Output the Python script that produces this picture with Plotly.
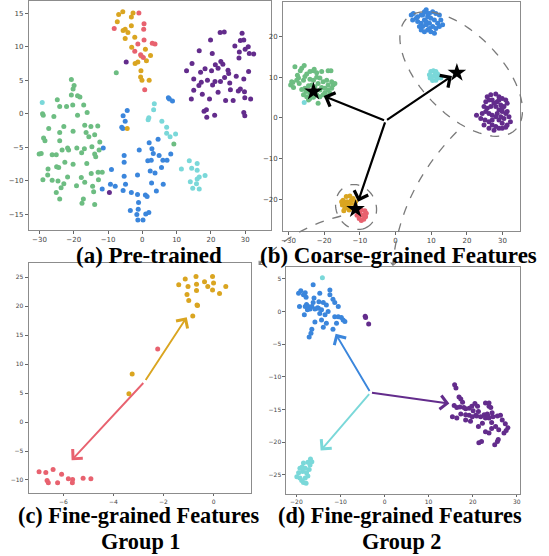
import numpy as np
import plotly.graph_objects as go

W, H = 549, 556
def px(x): return x / W
def py(y): return 1 - y / H

GREEN = "#6dbd82"
PURPLE = "#632c8c"
BLUE = "#3b86dc"
CYAN = "#7ad8d9"
GOLD = "#daa520"
PINK = "#e8626f"

# ---------------- Panel (a): Pre-trained ----------------
a_gold = [(-6.9,14.8),(-5.7,15.2),(-7.3,13.7),(-2.7,15.0),(-3.2,14.4),(-5.0,12.6),(-5.6,12.4),(-4.2,12.1),(-3.2,13.1),
          (-5.0,11.2),(-2.2,11.4),(-3.1,9.9),(0.9,9.6),(-0.3,8.6),(-1.3,7.7),(-2.1,7.5),(1.2,7.9),(2.4,8.7),(-0.4,6.4),
          (-0.5,5.5),(-0.1,5.0),(2.0,5.0),(-4.4,-2.2)]
a_pink = [(-1.0,15.0),(0.5,13.4),(0.4,12.6),(-8.2,12.7),(-1.3,10.4),(0.5,11.0),(2.9,10.5),(3.7,10.4),(-2.2,9.3),
          (-0.5,8.8),(0.3,8.4),(0.7,3.6)]
a_purple = [(22.7,12.1),(23.9,12.2),(29.1,12.0),(19.9,11.0),(16.6,9.4),(20.4,9.0),(28.6,10.9),(29.6,11.0),(27.0,10.1),
            (30.9,10.0),(28.3,9.2),(30.0,9.6),(31.2,9.0),(32.5,8.9),(28.2,8.3),(14.5,7.5),(22.9,7.8),(23.5,7.4),(21.3,7.3),
            (18.3,6.7),(17.0,6.2),(12.9,6.4),(20.2,6.4),(22.1,6.8),(25.0,6.5),(25.2,6.0),(31.0,6.3),(15.0,5.2),(17.2,4.7),
            (16.5,4.2),(19.0,5.0),(21.2,4.8),(22.8,4.8),(24.0,5.4),(27.4,5.6),(29.6,5.2),(25.5,4.6),(20.5,4.3),(15.0,3.5),
            (17.5,2.9),(22.1,3.2),(25.7,3.6),(28.0,3.4),(28.6,3.7),(29.8,3.3),(14.3,2.2),(19.6,2.2),(24.3,2.0),(26.5,2.0),
            (29.9,2.4),(31.6,2.2),(18.0,0.4),(18.7,0.6),(18.8,-0.5),(21.1,-0.2),(29.6,0.2),(29.9,-0.3),(-4.7,7.7),(-9.6,-11.7)]
a_green = [(-20.7,5.1),(-19.9,4.2),(-20.2,3.7),(-20.7,2.8),(-18.9,2.7),(-18.2,2.5),(-24.8,2.1),(-7.6,6.1),(-24.1,1.1),
           (-22.1,1.1),(-20.3,1.3),(-17.1,1.3),(-16.1,0.2),(-18.9,-0.2),(-29.1,0.0),(-28.9,-0.2),(-25.8,-0.4),(-27.3,-2.2),
           (-22.9,-1.9),(-24.1,-2.8),(-20.2,-2.6),(-16.8,-1.7),(-15.0,-1.9),(-13.0,-1.8),(-16.4,-2.8),(-15.6,-3.4),
           (-13.9,-3.1),(-28.8,-3.6),(-28.4,-4.0),(-24.1,-4.0),(-12.4,-4.2),(-21.8,-5.1),(-21.5,-5.4),(-23.4,-5.4),
           (-19.1,-5.1),(-16.9,-5.2),(-14.7,-4.9),(-17.7,-5.8),(-12.6,-5.4),(-30.1,-6.0),(-29.5,-5.9),(-26.3,-6.1),
           (-25.1,-6.1),(-13.9,-6.0),(-13.6,-6.4),(-22.6,-7.2),(-20.2,-7.5),(-16.2,-7.4),(-27.5,-8.2),(-25.0,-7.9),
           (-24.4,-8.0),(-27.6,-9.1),(-21.8,-9.4),(-29.0,-9.8),(-26.3,-9.9),(-24.6,-10.0),(-22.9,-10.4),(-23.7,-11.0),
           (-19.2,-10.7),(-17.8,-9.5),(-16.8,-10.2),(-14.9,-8.9),(-12.9,-8.7),(-11.7,-8.7),(-12.8,-9.8),(-25.1,-11.7),
           (-14.5,-10.8),(-14.2,-11.6),(-24.1,-12.7),(-17.2,-12.7),(-17.6,-13.3),(-13.9,-13.5),(9.2,-4.5)]
a_blue = [(7.6,2.4),(7.9,2.2),(8.8,1.9),(-4.4,0.5),(-5.6,-0.3),(-5.0,-1.1),(-6.0,-2.0),(-5.7,-2.2),(4.6,-3.8),(2.0,-4.3),
          (-11.4,-5.1),(-0.9,-5.4),(2.8,-5.2),(3.2,-5.9),(-5.3,-6.2),(-5.3,-7.2),(4.9,-6.2),(8.3,-6.0),(1.6,-7.0),(2.6,-6.9),
          (6.0,-6.9),(7.2,-6.9),(2.3,-8.5),(3.7,-8.8),(5.6,-8.0),(-9.0,-8.3),(-1.4,-9.1),(-5.3,-9.3),(2.7,-10.3),(6.1,-10.5),
          (-4.9,-10.5),(-9.3,-10.5),(-7.9,-10.8),(-11.7,-11.2),(-5.6,-11.4),(4.1,-11.5),(-3.2,-11.7),(-1.4,-12.0),(0.9,-12.1),
          (1.4,-12.3),(-1.1,-13.2),(-1.2,-14.2),(-3.5,-14.4),(-1.6,-15.0),(-1.3,-15.8),(0.2,-15.8),(1.0,-14.9),(1.9,-14.7)]
a_cyan = [(-29.2,1.7),(3.5,1.5),(3.3,0.6),(1.9,-0.6),(1.7,-0.9),(5.7,-1.1),(7.1,-2.0),(7.1,-2.9),(8.1,-3.4),(9.7,-3.0),
          (11.4,-8.2),(13.7,-7.0),(16.0,-7.4),(14.4,-8.1),(16.0,-8.4),(18.3,-9.2),(16.6,-9.4),(16.0,-9.7),(14.0,-10.1),
          (15.8,-10.4),(14.7,-11.1),(16.6,-11.2)]

# ---------------- Panel (b): Coarse-grained ----------------
b_green = [(-28.2,12.6),(-26.3,12.2),(-25.6,12.9),(-26.7,11.6),(-24.0,11.4),(-23.0,11.6),(-24.9,10.8),(-22.1,11.1),
           (-20.7,11.4),(-18.9,11.6),(-18.1,11.6),(-29.1,8.9),(-29.4,8.1),(-28.6,7.5),(-27.2,9.8),(-25.8,9.3),(-25.4,10.2),
           (-24.0,9.5),(-22.1,10.0),(-21.2,9.8),(-20.3,8.9),(-19.3,9.3),(-17.9,8.9),(-17.5,8.1),(-26.3,7.0),(-25.4,7.3),
           (-24.4,7.9),(-23.5,8.1),(-22.6,7.7),(-21.7,8.5),(-20.7,7.5),(-19.8,7.3),(-18.9,6.9),(-18.4,6.1),(-25.8,5.7),
           (-24.9,5.2),(-24.0,4.8),(-23.0,5.1),(-22.1,5.7),(-21.2,5.2),(-20.3,5.7),(-19.3,5.2),(-21.7,3.6),(-24.4,4.4),
           (-18.9,8.1),(-27.7,9.3),(-27.0,8.5),(-23.0,9.3),(-21.2,6.9),(-19.8,6.2),(-25.1,6.5),(-24.0,6.1),(-22.6,6.5),
           (-17.9,7.3),(-17.0,8.5),(-28.8,8.7),(-27.5,10.5),(-22.8,12.0)]
b_blue = [(4.4,25.3),(5.0,25.7),(5.8,24.5),(6.2,24.9),(7.2,25.3),(8.1,26.1),(8.6,26.6),(9.5,25.7),(10.4,26.1),(11.3,25.7),
          (12.3,25.3),(12.7,24.1),(13.2,22.9),(11.8,23.3),(10.9,24.1),(9.9,24.5),(9.0,24.9),(8.1,24.1),(7.2,23.3),(7.6,22.5),
          (8.6,22.9),(9.5,23.3),(10.4,22.5),(11.3,22.0),(9.0,21.6),(8.1,21.2),(7.2,21.6),(9.9,21.2),(12.3,22.5),(6.2,23.7),
          (4.8,24.1),(8.6,23.7),(9.5,22.0),(10.9,20.8),(7.6,25.3),(9.0,25.7),(6.7,22.5)]
b_cyan = [(9.5,10.6),(9.9,11.4),(10.6,11.6),(11.3,11.4),(11.8,10.8),(12.3,10.2),(12.7,9.8),(11.3,9.3),(10.4,9.2),
          (9.7,9.8),(10.9,10.3),(10.2,10.2),(11.8,9.8),(11.2,11.0),(-25.6,3.8)]
b_purple = [(25.7,5.2),(26.7,5.7),(28.1,5.9),(29.0,5.2),(29.9,4.8),(30.9,4.4),(31.3,3.6),(30.4,2.8),(29.5,3.2),(28.5,4.0),
            (27.1,4.4),(26.2,4.4),(25.3,4.0),(24.8,2.8),(25.7,2.4),(26.7,2.8),(28.1,2.8),(29.0,2.0),(29.9,1.6),(30.9,1.1),
            (31.8,0.3),(32.2,-0.9),(31.3,-1.7),(29.9,-1.3),(29.0,-0.5),(28.1,0.3),(27.1,0.7),(26.2,1.1),(25.3,1.6),(24.3,1.1),
            (22.7,0.7),(23.9,-0.1),(25.1,-0.5),(26.2,-0.9),(27.1,-1.7),(28.1,-2.1),(29.0,-2.5),(29.9,-2.5),(30.9,-2.3),
            (26.2,-2.5),(24.8,-1.7),(27.6,-3.0),(27.1,-0.5),(28.5,1.1),(29.5,0.3),(30.4,-0.1),(27.6,3.6),(29.0,4.4),
            (29.9,2.4),(31.3,1.6)]
b_gold = [(-14.7,-20.2),(-13.8,-19.3),(-12.8,-19.2),(-11.9,-19.8),(-11.2,-20.6),(-11.4,-21.4),(-12.1,-22.2),(-13.0,-22.6),
          (-14.2,-22.2),(-14.9,-21.4),(-13.6,-20.6),(-12.6,-21.0),(-13.3,-21.8),(-13.9,-21.1),(-12.4,-20.2),(-14.5,-22.8),
          (-15.1,-20.6)]
b_pink = [(-10.5,-23.0),(-9.6,-22.6),(-8.6,-22.8),(-8.2,-23.4),(-8.4,-24.3),(-8.9,-24.9),(-9.6,-25.2),(-10.2,-24.7),
          (-10.8,-23.9),(-9.3,-23.9),(-10.0,-23.4),(-8.6,-23.9)]
b_stars = [(-23.0,6.5),(17.2,11.1),(-11.2,-22.4)]
b_origin = (-2.8,-0.7)
b_arrow_tips = [(-20.1,5.4),(15.8,10.3),(-10.5,-20.6)]

# ---------------- Panel (c): Fine-grained Group 1 ----------------
c_gold = [(-1.39,23.7),(-1.13,24.7),(-0.70,25.1),(-0.36,24.2),(-0.04,25.1),(0.0,24.0),(-1.02,23.4),(-0.68,23.8),
          (-0.23,23.4),(0.49,23.4),(-1.06,22.0),(-0.68,22.7),(-0.04,22.8),(0.24,22.2),(-0.99,21.0),(-0.66,20.2),
          (-0.64,20.1),(-0.83,18.3),(-3.25,8.3),(-3.38,4.9)]
c_pink = [(-2.23,12.6),(-6.97,-8.6),(-6.70,-8.7),(-6.41,-8.2),(-6.07,-9.0),(-6.65,-10.1),(-6.60,-10.5),(-6.23,-10.5),
          (-5.80,-9.8),(-5.63,-9.9),(-5.64,-10.5),(-5.21,-9.7),(-4.90,-9.8)]
c_origin = (-2.75,7.0)
c_arrows = [((-1.07,18.1), GOLD), ((-5.67,-6.6), PINK)]

# ---------------- Panel (d): Fine-grained Group 2 ----------------
d_blue = [(-19.5,2.8),(-19.0,3.2),(-18.4,2.6),(-18.0,2.9),(-17.8,2.2),(-19.3,0.8),(-18.2,-0.5),(-17.7,1.1),(-17.3,0.8),
          (-16.5,0.8),(-16.2,1.4),(-16.9,0.4),(-16.0,2.1),(-16.2,4.1),(-14.7,2.8),(-14.9,1.5),(-15.0,0.5),(-14.3,0.3),
          (-13.9,1.4),(-14.7,-0.3),(-13.5,-0.5),(-14.3,-1.3),(-12.8,0.0),(-12.4,3.3),(-12.4,2.6),(-11.7,1.9),(-11.3,1.4),
          (-10.5,0.8),(-11.3,-0.8),(-10.5,-0.8),(-9.8,-0.9),(-9.4,-1.3),(-9.0,-1.5),(-10.9,-1.8),(-11.7,-2.7),(-13.2,-1.8),
          (-13.9,-2.4),(-15.8,-1.6),(-16.5,-2.7),(-16.7,-3.3),(-17.1,-3.9),(-15.8,0.4),(-15.2,0.6),(-13.2,1.0),(-18.0,0.8),
          (-17.5,0.3)]
d_cyan = [(-14.1,5.2),(-16.8,-22.6),(-17.4,-23.1),(-18.4,-23.2),(-18.7,-23.8),(-19.2,-24.0),(-19.5,-24.7),(-19.9,-25.3),
          (-19.2,-25.5),(-18.8,-25.9),(-18.4,-26.2),(-17.8,-26.3),(-18.0,-25.5),(-17.7,-24.7),(-17.1,-24.2),(-16.9,-23.5),
          (-16.5,-23.0),(-18.0,-24.0),(-18.6,-24.5),(-17.4,-25.2)]
d_purple = [(-4.4,-0.7),(-4.3,-0.9),(-3.6,-1.9),(15.9,-11.2),(16.2,-11.7),(16.9,-13.1),(17.3,-13.4),(17.7,-13.9),(15.8,-14.4),
            (16.4,-14.7),(17.1,-14.6),(18.0,-14.7),(18.4,-14.9),(19.2,-14.8),(19.8,-14.5),(20.5,-14.1),(21.1,-14.5),
            (20.1,-15.2),(21.3,-15.3),(19.2,-15.9),(18.4,-16.6),(19.5,-16.8),(19.9,-16.1),(20.7,-15.9),(21.8,-16.1),
            (22.6,-15.8),(23.3,-15.7),(23.7,-14.5),(24.1,-14.7),(24.4,-15.5),(22.9,-16.3),(23.7,-16.3),(22.2,-17.1),
            (21.3,-17.6),(22.9,-18.4),(23.7,-18.6),(24.3,-17.0),(24.6,-16.1),(25.6,-16.0),(26.3,-15.9),(26.7,-16.6),
            (27.4,-17.2),(28.0,-17.8),(27.6,-18.2),(27.1,-18.6),(25.9,-18.1),(25.2,-17.6),(24.3,-17.9),(25.6,-19.9),
            (25.8,-19.6),(25.0,-20.4),(22.0,-19.9),(21.4,-20.1),(22.9,-14.0),(23.7,-14.0),(23.5,-16.0),(20.9,-16.0),
            (18.4,-15.8),(17.3,-15.7),(16.4,-16.3),(15.4,-16.1)]
d_origin = (-3.2,-12.4)
d_arrows = [((-11.1,-3.4), BLUE), ((14.7,-14.1), PURPLE), ((-14.5,-21.3), CYAN)]

fig = go.Figure()

def scatter(pts, color, xa, ya, size=5):
    fig.add_trace(go.Scatter(x=[p[0] for p in pts], y=[p[1] for p in pts], mode="markers",
                             marker=dict(color=color, size=size, line=dict(width=0)),
                             xaxis=xa, yaxis=ya, hoverinfo="skip"))

for pts, col in [(a_green, GREEN), (a_purple, PURPLE), (a_blue, BLUE), (a_cyan, CYAN), (a_gold, GOLD), (a_pink, PINK)]:
    scatter(pts, col, "x", "y")
for pts, col in [(b_green, GREEN), (b_purple, PURPLE), (b_blue, BLUE), (b_cyan, CYAN), (b_gold, GOLD), (b_pink, PINK)]:
    scatter(pts, col, "x2", "y2")
for pts, col in [(c_gold, GOLD), (c_pink, PINK)]:
    scatter(pts, col, "x3", "y3")
for pts, col in [(d_blue, BLUE), (d_cyan, CYAN), (d_purple, PURPLE)]:
    scatter(pts, col, "x4", "y4")

annotations = []
def arrow(tip, origin, color, xr, yr, width=2.2, size=1.3):
    annotations.append(dict(x=tip[0], y=tip[1], ax=origin[0], ay=origin[1], xref=xr, yref=yr, axref=xr, ayref=yr,
                            showarrow=True, arrowhead=4, arrowsize=size, arrowwidth=width, arrowcolor=color, text=""))

for tip in b_arrow_tips:
    arrow(tip, b_origin, "black", "x2", "y2", 2.2, 1.3)
for tip, col in c_arrows:
    arrow(tip, c_origin, col, "x3", "y3", 1.9, 1.4)
for tip, col in d_arrows:
    arrow(tip, d_origin, col, "x4", "y4", 1.9, 1.4)

fig.add_trace(go.Scatter(x=[s[0] for s in b_stars], y=[s[1] for s in b_stars], mode="markers",
                         marker=dict(symbol="star", size=14, color="black"), xaxis="x2", yaxis="y2", hoverinfo="skip"))

# axes
def axis(dom, rng, tv, anchor, fs, tl=3):
    return dict(domain=dom, range=rng, tickvals=tv, ticks="outside", ticklen=tl, tickwidth=1, tickcolor="#666",
                showline=True, linecolor="#8c8c8c", linewidth=1, mirror=True, showgrid=False, zeroline=False,
                tickfont=dict(family="DejaVu Sans", size=fs, color="#444"), anchor=anchor, fixedrange=True)

layout = dict(
    xaxis=axis([px(27), px(270)], [-33.1, 37.4], [-30, -20, -10, 0, 10, 20, 30], "y", 7),
    yaxis=axis([py(230), py(1)], [-17.3, 16.8], [-15, -10, -5, 0, 5, 10, 15], "x", 7),
    xaxis2=axis([px(282.7), px(520.7)], [-31.5, 34.85], [-30, -20, -10, 0, 10, 20, 30], "y2", 7),
    yaxis2=axis([py(230.7), py(2)], [-27.7, 28.5], [-20, -10, 0, 10, 20], "x2", 7),
    xaxis3=axis([px(26.7), px(250.7)], [-7.39, 1.51], [-6, -4, -2, 0], "y3", 6, 2),
    yaxis3=axis([py(493.3), py(263.3)], [-12.3, 27.4], [-10, -5, 0, 5, 10, 15, 20, 25], "x3", 6),
    xaxis4=axis([px(286), px(520.7)], [-22.26, 30.7], [-20, -10, 0, 10, 20, 30], "y4", 6, 2),
    yaxis4=axis([py(494), py(267.3)], [-27.95, 6.79], [-25, -20, -15, -10, -5, 0, 5], "x4", 6),
)

# dashed ellipses (pixel-space geometry) and connectors
def ellipse_path(cx, cy, a, b, ang_deg, n=80):
    t = np.linspace(0, 2 * np.pi, n)
    ang = np.deg2rad(ang_deg)
    xs = cx + a * np.cos(t) * np.cos(ang) - b * np.sin(t) * np.sin(ang)
    ys = cy + a * np.cos(t) * np.sin(ang) + b * np.sin(t) * np.cos(ang)
    return "M " + " L ".join(f"{px(x):.5f},{py(y):.5f}" for x, y in zip(xs, ys)) + " Z"

dash_line = dict(color="#7a7a7a", width=1.3, dash="dash")
shapes = [
    dict(type="path", xref="paper", yref="paper", path=ellipse_path(461.7, 74, 78, 40, 45.5), line=dash_line),
    dict(type="path", xref="paper", yref="paper", path=ellipse_path(356, 207, 23, 20, 64), line=dash_line),
    dict(type="path", xref="paper", yref="paper",
         path=f"M {px(341)},{py(216)} Q {px(292)},{py(228)} {px(259)},{py(263)}", line=dash_line),
    dict(type="path", xref="paper", yref="paper",
         path=f"M {px(457)},{py(132)} Q {px(400)},{py(190)} {px(393)},{py(264)}", line=dash_line),
]
annotations.append(dict(x=px(258), y=py(265), xref="paper", yref="paper", ax=7, ay=-7, showarrow=True,
                        arrowhead=4, arrowsize=0.9, arrowwidth=1.1, arrowcolor="#7a7a7a", text=""))
annotations.append(dict(x=px(393), y=py(266), xref="paper", yref="paper", ax=1, ay=-9, showarrow=True,
                        arrowhead=4, arrowsize=0.9, arrowwidth=1.1, arrowcolor="#7a7a7a", text=""))

top_font = dict(family="Liberation Serif", size=23, color="black")
bot_font = dict(family="Liberation Serif", size=22.3, color="black")
for text, x, y, f in [("<b>(a) Pre-trained</b>", 148, 255, top_font),
                      ("<b>(b) Coarse-grained Features</b>", 399, 255, top_font),
                      ("<b>(c) Fine-grained Features</b>", 137, 515.5, bot_font),
                      ("<b>Group 1</b>", 139.5, 541, bot_font),
                      ("<b>(d) Fine-grained Features</b>", 400, 515.5, bot_font),
                      ("<b>Group 2</b>", 402.5, 541, bot_font)]:
    annotations.append(dict(text=text, x=px(x), y=py(y), xref="paper", yref="paper", showarrow=False,
                            xanchor="center", yanchor="middle", font=f, borderpad=0))

fig.update_layout(width=W, height=H, margin=dict(l=0, r=0, t=0, b=0), plot_bgcolor="white",
                  paper_bgcolor="white", showlegend=False, shapes=shapes, annotations=annotations, **layout)

fig.write_html("out.html", config={"displayModeBar": False, "staticPlot": True},
               post_script="document.body.style.margin='0';document.body.style.overflow='hidden';")
